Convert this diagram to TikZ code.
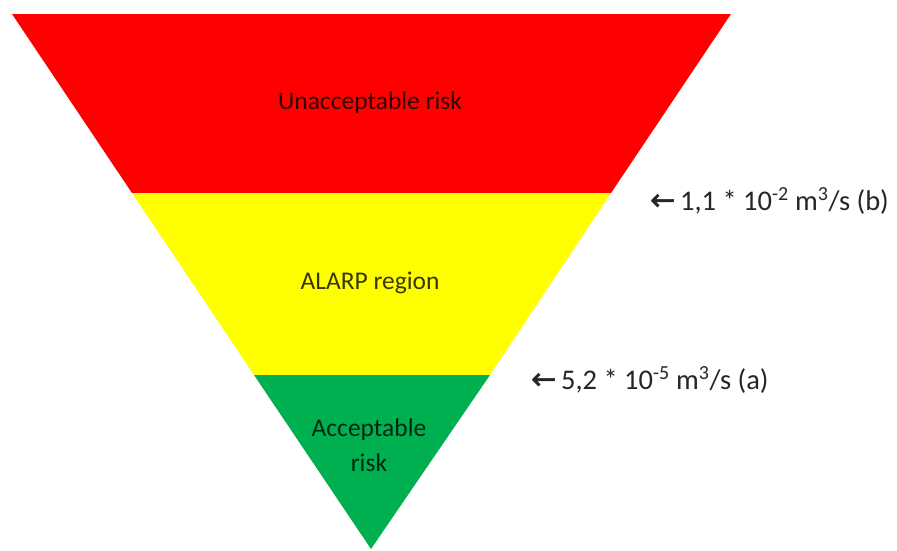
\documentclass[tikz,border=0pt]{standalone}
\usepackage{fontspec}
\setmainfont{Carlito}
\newfontfamily\arrowfont[FakeBold=1.5]{DejaVu Sans}
\definecolor{riskred}{HTML}{FF0000}
\definecolor{riskyellow}{HTML}{FFFF00}
\definecolor{riskgreen}{HTML}{00B050}
\tikzset{
  bandlabel/.style={font=\fontsize{25.5}{35}\selectfont, text=black, text opacity=0.78, align=center, inner sep=0pt},
  sidelabel/.style={font=\fontsize{28.5}{32}\selectfont, text=black!85, anchor=west, inner sep=0pt}
}
\newcommand{\larr}{{\arrowfont\fontsize{30}{32}\selectfont ←}}
\begin{document}
\begin{tikzpicture}[x=1pt,y=-1pt]
\useasboundingbox (0,0) rectangle (897,550);
\fill[white] (0,0) rectangle (897,550);
% bands
\fill[riskred] (12,14) -- (731,14) -- (611,193) -- (132,193) -- cycle;
\fill[riskyellow] (132,193) -- (611,193) -- (490,375) -- (254,375) -- cycle;
\fill[riskgreen] (254,375) -- (490,375) -- (371,549) -- cycle;
% labels
\node[bandlabel] (unacc) at (370,103) {Unacceptable risk};
\node[bandlabel] (alarp) at (370,283) {ALARP region};
\node[bandlabel] (acc) at (369,445) {Acceptable\\risk};
\node[sidelabel] (lb) at (650,201) {\larr\,1,1 * 10\textsuperscript{-2} m\textsuperscript{3}/s (b)};
\node[sidelabel] (la) at (531,380) {\larr\,5,2 * 10\textsuperscript{-5} m\textsuperscript{3}/s (a)};
\end{tikzpicture}
\end{document}
